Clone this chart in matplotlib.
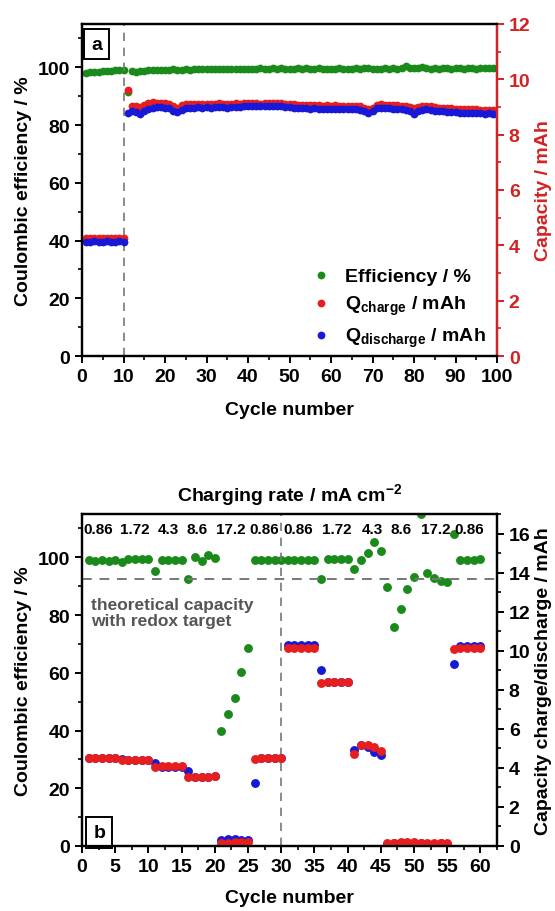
import matplotlib
matplotlib.use("Agg")
import matplotlib.pyplot as plt
from matplotlib.ticker import MultipleLocator

plt.rcParams['font.family'] = ['Liberation Sans', 'DejaVu Sans']
plt.rcParams['font.weight'] = 'bold'
plt.rcParams['mathtext.fontset'] = 'custom'
plt.rcParams['mathtext.rm'] = 'Liberation Sans:bold'
plt.rcParams['mathtext.it'] = 'Liberation Sans:bold'
plt.rcParams['mathtext.bf'] = 'Liberation Sans:bold'
plt.rcParams['mathtext.default'] = 'rm'

# ---------------- data: panel a ----------------
cycles_a = list(range(1, 101))
eff_a = [98.2, 98.3, 98.4, 98.5, 98.6, 98.7, 98.8, 98.9, 99.0, 99.1,
         91.5, 98.6, 98.5, 98.7, 98.8, 98.9, 99.0, 98.9, 99.1, 99.2,
         99.2, 99.3, 99.0, 99.2, 99.3, 99.2, 99.4, 99.3, 99.3, 99.4,
         99.3, 99.4, 99.3, 99.5, 99.4, 99.3, 99.4, 99.5, 99.4, 99.3,
         99.4, 99.5, 99.8, 99.5, 99.4, 99.6, 99.5, 99.9, 99.5, 99.4,
         99.5, 99.6, 99.4, 99.9, 99.5, 99.4, 99.6, 99.5, 99.4, 99.5,
         99.5, 99.6, 99.5, 99.4, 99.5, 99.6, 99.5, 99.9, 99.6, 99.5,
         99.4, 99.5, 99.6, 99.5, 99.6, 99.5, 99.7, 100.5, 99.8, 99.6,
         99.7, 100.0, 99.6, 99.5, 99.6, 99.5, 99.6, 99.7, 99.5, 99.6,
         99.6, 99.5, 99.7, 99.6, 99.5, 99.6, 99.7, 99.6, 99.8, 99.7]
qch_a = [4.25, 4.26, 4.25, 4.25, 4.26, 4.25, 4.25, 4.26, 4.25, 4.25,
         9.60, 9.02, 9.05, 9.00, 9.08, 9.13, 9.17, 9.16, 9.15, 9.14,
         9.10, 9.02, 8.98, 9.06, 9.10, 9.12, 9.11, 9.12, 9.11, 9.12,
         9.11, 9.12, 9.13, 9.12, 9.11, 9.12, 9.13, 9.12, 9.13, 9.14,
         9.13, 9.14, 9.12, 9.15, 9.16, 9.15, 9.14, 9.13, 9.12, 9.11,
         9.10, 9.08, 9.07, 9.08, 9.06, 9.07, 9.06, 9.05, 9.06, 9.05,
         9.06, 9.05, 9.04, 9.05, 9.04, 9.03, 9.02, 8.98, 8.93, 8.98,
         9.08, 9.10, 9.09, 9.08, 9.07, 9.06, 9.05, 9.04, 9.00, 8.96,
         9.00, 9.03, 9.04, 9.02, 9.00, 8.98, 8.97, 8.96, 8.95, 8.94,
         8.93, 8.92, 8.93, 8.92, 8.91, 8.90, 8.89, 8.90, 8.88, 8.87]
qdis_a = [4.13, 4.13, 4.14, 4.13, 4.13, 4.14, 4.13, 4.13, 4.14, 4.13,
          8.80, 8.87, 8.82, 8.75, 8.84, 8.92, 8.97, 8.99, 8.99, 8.98,
          8.95, 8.85, 8.81, 8.90, 8.96, 8.98, 8.98, 8.99, 8.98, 8.99,
          8.98, 8.99, 9.00, 8.99, 8.98, 8.99, 9.00, 9.01, 9.02, 9.03,
          9.02, 9.03, 9.02, 9.04, 9.05, 9.04, 9.03, 9.02, 9.01, 9.00,
          8.98, 8.96, 8.95, 8.96, 8.94, 8.95, 8.94, 8.93, 8.94, 8.93,
          8.94, 8.93, 8.92, 8.93, 8.92, 8.91, 8.90, 8.86, 8.77, 8.84,
          8.95, 8.97, 8.96, 8.95, 8.94, 8.93, 8.92, 8.90, 8.84, 8.76,
          8.86, 8.90, 8.91, 8.89, 8.87, 8.85, 8.84, 8.83, 8.82, 8.81,
          8.80, 8.79, 8.80, 8.79, 8.78, 8.77, 8.76, 8.77, 8.75, 8.74]

# ---------------- data: panel b ----------------
cycles_b = list(range(1, 61))
eff_b = [98.9, 98.8, 98.9, 98.8, 98.9, 98.3, 99.4, 99.5, 99.4, 99.5,
         95.4, 99.1, 99.0, 99.1, 99.2, 92.5, 100.0, 98.8, 100.8, 99.7,
         40.0, 45.7, 51.4, 60.4, 68.6, 98.9, 99.0, 99.0, 99.1, 99.2,
         99.0, 98.9, 98.9, 99.0, 99.0, 92.5, 99.4, 99.5, 99.5, 99.4,
         96.0, 99.2, 101.5, 105.2, 102.3, 89.8, 76.0, 82.1, 89.0, 93.1,
         115.0, 94.6, 92.9, 91.9, 91.4, 108.1, 99.0, 99.1, 99.1, 99.3]
qch_b = [4.51, 4.51, 4.51, 4.51, 4.51, 4.39, 4.39, 4.39, 4.39, 4.39,
         4.05, 4.08, 4.08, 4.08, 4.08, 3.53, 3.52, 3.52, 3.53, 3.59,
         0.14, 0.17, 0.19, 0.20, 0.22, 4.47, 4.51, 4.51, 4.51, 4.51,
         10.14, 10.14, 10.14, 10.14, 10.14, 8.35, 8.40, 8.41, 8.40, 8.40,
         4.71, 5.19, 5.15, 5.07, 4.85, 0.15, 0.17, 0.18, 0.20, 0.22,
         0.17, 0.16, 0.16, 0.17, 0.16, 10.07, 10.14, 10.14, 10.14, 10.14]
qdis_b = [4.50, 4.50, 4.50, 4.50, 4.50, 4.47, 4.39, 4.39, 4.39, 4.39,
          4.27, 4.07, 4.07, 4.07, 4.07, 3.82, 3.52, 3.52, 3.52, 3.58,
          0.32, 0.34, 0.34, 0.33, 0.33, 3.24, 4.50, 4.50, 4.50, 4.50,
          10.28, 10.28, 10.28, 10.28, 10.28, 9.00, 8.40, 8.40, 8.40, 8.40,
          4.93, 5.15, 5.08, 4.82, 4.68, 0.12, 0.13, 0.14, 0.15, 0.16,
          0.13, 0.12, 0.12, 0.13, 0.12, 9.30, 10.25, 10.25, 10.25, 10.25]

rate_labels = ['0.86', '1.72', '4.3', '8.6', '17.2', '0.86',
               '0.86', '1.72', '4.3', '8.6', '17.2', '0.86']
rate_pos = [2.4, 8.0, 13.0, 17.3, 22.4, 27.4, 32.6, 38.4, 43.7, 48.0, 53.3, 58.3]
theory_capacity = 13.65

GREEN = '#1a8a1a'
RED = '#e61e1e'
BLUE = '#1818d8'
AXRED = '#d42222'
DASH = '#777777'
TICK_FS = 14
LAB_FS = 14

W, H = 555, 912
fig = plt.figure(figsize=(W / 100, H / 100), dpi=100)


def style_axis(ax):
    for s in ax.spines.values():
        s.set_linewidth(1.6)
    ax.tick_params(which='major', direction='out', length=5, width=1.4, labelsize=TICK_FS)
    ax.tick_params(which='minor', direction='out', length=3, width=1.2)


# ---------------- panel a ----------------
ax1 = fig.add_axes([82 / W, 1 - 357 / H, 415 / W, 332 / H])
ax1r = ax1.twinx()
ms = 5.6
h1, = ax1.plot(cycles_a, eff_a, 'o', color=GREEN, ms=ms, mew=0, label='Efficiency / %')
h2, = ax1r.plot(cycles_a, qch_a, 'o', color=RED, ms=ms, mew=0, label='Q$_{charge}$ / mAh')
h3, = ax1r.plot(cycles_a, qdis_a, 'o', color=BLUE, ms=ms, mew=0, label='Q$_{discharge}$ / mAh')
ax1.set_xlim(0, 100)
ax1.set_ylim(0, 115)
ax1r.set_ylim(0, 12)
ax1.axvline(10, color=DASH, lw=1.2, ls=(0, (5, 4)))
ax1.xaxis.set_major_locator(MultipleLocator(10))
ax1.xaxis.set_minor_locator(MultipleLocator(5))
ax1.yaxis.set_major_locator(MultipleLocator(20))
ax1.yaxis.set_minor_locator(MultipleLocator(10))
ax1r.yaxis.set_major_locator(MultipleLocator(2))
ax1r.yaxis.set_minor_locator(MultipleLocator(1))
style_axis(ax1)
style_axis(ax1r)
ax1r.spines['right'].set_color(AXRED)
ax1r.tick_params(axis='y', which='both', colors=AXRED)
ax1.set_xlabel('Cycle number', fontsize=LAB_FS, fontweight='bold', labelpad=12)
ax1.set_ylabel('Coulombic efficiency / %', fontsize=LAB_FS, fontweight='bold', labelpad=4)
ax1r.set_ylabel('Capacity / mAh', fontsize=LAB_FS, fontweight='bold', color=AXRED, labelpad=3)
ax1.text(0.022, 0.965, 'a', transform=ax1.transAxes, ha='left', va='top', fontsize=14,
         fontweight='bold', bbox=dict(boxstyle='square,pad=0.35', fc='white', ec='black', lw=1.4))
leg = ax1r.legend(handles=[h1, h2, h3], loc='lower right', bbox_to_anchor=(1.0, -0.015),
                  frameon=False, fontsize=14, handletextpad=0.6, labelspacing=0.45,
                  borderaxespad=0.2, markerscale=1.0, handlelength=1.2)

# ---------------- panel b ----------------
ax2 = fig.add_axes([82 / W, 1 - 847 / H, 415 / W, 332 / H])
ax2r = ax2.twinx()
ax2.plot(cycles_b, eff_b, 'o', color=GREEN, ms=6.4, mew=0)
ax2r.plot(cycles_b, qdis_b, 'o', color=BLUE, ms=6.4, mew=0)
ax2r.plot(cycles_b, qch_b, 'o', color=RED, ms=6.4, mew=0)
ax2.set_xlim(0, 62.5)
ax2.set_ylim(0, 115)
ax2r.set_ylim(0, 17)
ax2.axvline(30, color=DASH, lw=1.2, ls=(0, (5, 4)))
ax2r.axhline(theory_capacity, color=DASH, lw=1.4, ls=(0, (5, 4)))
ax2.xaxis.set_major_locator(MultipleLocator(5))
ax2.xaxis.set_minor_locator(MultipleLocator(2.5))
ax2.yaxis.set_major_locator(MultipleLocator(20))
ax2.yaxis.set_minor_locator(MultipleLocator(10))
ax2r.yaxis.set_major_locator(MultipleLocator(2))
ax2r.yaxis.set_minor_locator(MultipleLocator(1))
style_axis(ax2)
style_axis(ax2r)
ax2.set_xlabel('Cycle number', fontsize=LAB_FS, fontweight='bold', labelpad=10)
ax2.set_ylabel('Coulombic efficiency / %', fontsize=LAB_FS, fontweight='bold', labelpad=4)
ax2r.set_ylabel('Capacity charge/discharge / mAh', fontsize=LAB_FS, fontweight='bold', labelpad=3)
ax2.set_title('Charging rate / mA cm$^{-2}$', fontsize=14, fontweight='bold', pad=10)
for lab, xp in zip(rate_labels, rate_pos):
    ax2.text(xp, 0.955, lab, transform=ax2.get_xaxis_transform(), ha='center', va='center',
             fontsize=11, fontweight='bold')
ax2.text(0.022, 0.75, 'theoretical capacity\nwith redox target', transform=ax2.transAxes,
         ha='left', va='top', fontsize=12.5, fontweight='bold', color='#555555', linespacing=1.1)
ax2.text(0.027, 0.015, 'b', transform=ax2.transAxes, ha='left', va='bottom', fontsize=14,
         fontweight='bold', bbox=dict(boxstyle='square,pad=0.35', fc='white', ec='black', lw=1.4))

fig.savefig('out.png', dpi=100)
